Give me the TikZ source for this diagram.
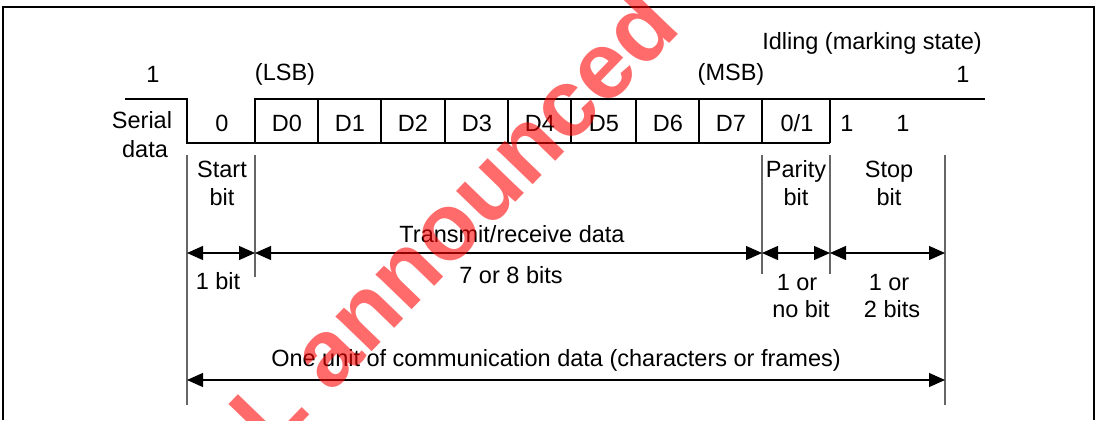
\documentclass[tikz,border=0pt]{standalone}
\usepackage{fontspec}
\setmainfont{Liberation Sans}
\usetikzlibrary{arrows.meta}
\begin{document}
\begin{tikzpicture}[x=1pt,y=-1pt,
  font=\fontsize{23.5}{27}\selectfont,
  lbl/.style={inner sep=0pt, anchor=base},
  sig/.style={line width=1.3pt, line join=miter},
  guide/.style={line width=1.3pt, black!60},
  dim/.style={line width=1.2pt, {Triangle[length=16pt,width=14pt]}-{Triangle[length=16pt,width=14pt]}},
  wmark/.style={rotate=46, text=red, text opacity=0.58, inner sep=0pt,
    font=\fontsize{95}{95}\bfseries\selectfont}]
\useasboundingbox (0,0) rectangle (1099,420);
% frame
\draw[line width=1.3pt] (3,420) -- (3,7) -- (1094,7) -- (1094,420);
% signal
\draw[sig] (125,99) -- (187,99) -- (187,143) -- (830,143);
\draw[sig] (255,143) -- (255,99) -- (985,99);
\foreach \x in {318,381,445,508,571,636,699,762,830}
  \draw[sig] (\x,99) -- (\x,143);
% top labels
\node[lbl] (one1) at (153,82) {1};
\node[lbl] (lsb) at (285,81) {(LSB)};
\node[lbl] (msb) at (731,81) {(MSB)};
\node[lbl] (one2) at (963,82) {1};
\node[lbl] (idle) at (872,49) {Idling (marking state)};
\node[lbl] (ser1) at (142,128) {Serial};
\node[lbl] (ser2) at (145,157) {data};
% bit values
\node[lbl] (b0) at (222,131) {0};
\node[lbl] (d0) at (287,131) {D0};
\node[lbl] (d1) at (350,131) {D1};
\node[lbl] (d2) at (413,131) {D2};
\node[lbl] (d3) at (477,131) {D3};
\node[lbl] (d4) at (540,131) {D4};
\node[lbl] (d5) at (604,131) {D5};
\node[lbl] (d6) at (668,131) {D6};
\node[lbl] (d7) at (731,131) {D7};
\node[lbl] (par) at (797,131) {0/1};
\node[lbl] (s1) at (847,131) {1};
\node[lbl] (s2) at (903,131) {1};
% field names
\node[lbl] (st1) at (222,177) {Start};
\node[lbl] (st2) at (222,205) {bit};
\node[lbl] (pa1) at (796,177) {Parity};
\node[lbl] (pa2) at (796,205) {bit};
\node[lbl] (sp1) at (889,177) {Stop};
\node[lbl] (sp2) at (889,205) {bit};
% guide lines
\coordinate (g0t) at (187,155); \coordinate (g0b) at (187,405);
\coordinate (g1t) at (255,155); \coordinate (g1b) at (255,277);
\coordinate (g2t) at (762,155); \coordinate (g2b) at (762,274);
\coordinate (g3t) at (830,155); \coordinate (g3b) at (830,274);
\coordinate (g4t) at (945,155); \coordinate (g4b) at (945,405);
\foreach \g in {g0,g1,g2,g3,g4}
  \draw[guide] (\g t) -- (\g b);
% dimension arrows
\coordinate (a0) at (187,253); \coordinate (a1) at (255,253);
\coordinate (a2) at (762,253); \coordinate (a3) at (830,253);
\coordinate (a4) at (945,253);
\draw[dim] (a0) -- (a1);
\draw[dim] (a1) -- (a2);
\draw[dim] (a2) -- (a3);
\draw[dim] (a3) -- (a4);
\coordinate (u0) at (187,380); \coordinate (u1) at (945,380);
\draw[dim] (u0) -- (u1);
% dimension labels
\node[lbl] (trx) at (512,242) {Transmit/receive data};
\node[lbl] (n78) at (511,283) {7 or 8 bits};
\node[lbl] (n1) at (218,289) {1 bit};
\node[lbl] (np1) at (797,290) {1 or};
\node[lbl] (np2) at (801,317) {no bit};
\node[lbl] (ns1) at (889,290) {1 or};
\node[lbl] (ns2) at (892,317) {2 bits};
\node[lbl] (unit) at (556,366) {One unit of communication data (characters or frames)};
% watermark
\begin{scope}
\clip (0,0) rectangle (1099,420);
\node[wmark] (wm) at (405,268) {EOL announced};
\end{scope}
\end{tikzpicture}
\end{document}
